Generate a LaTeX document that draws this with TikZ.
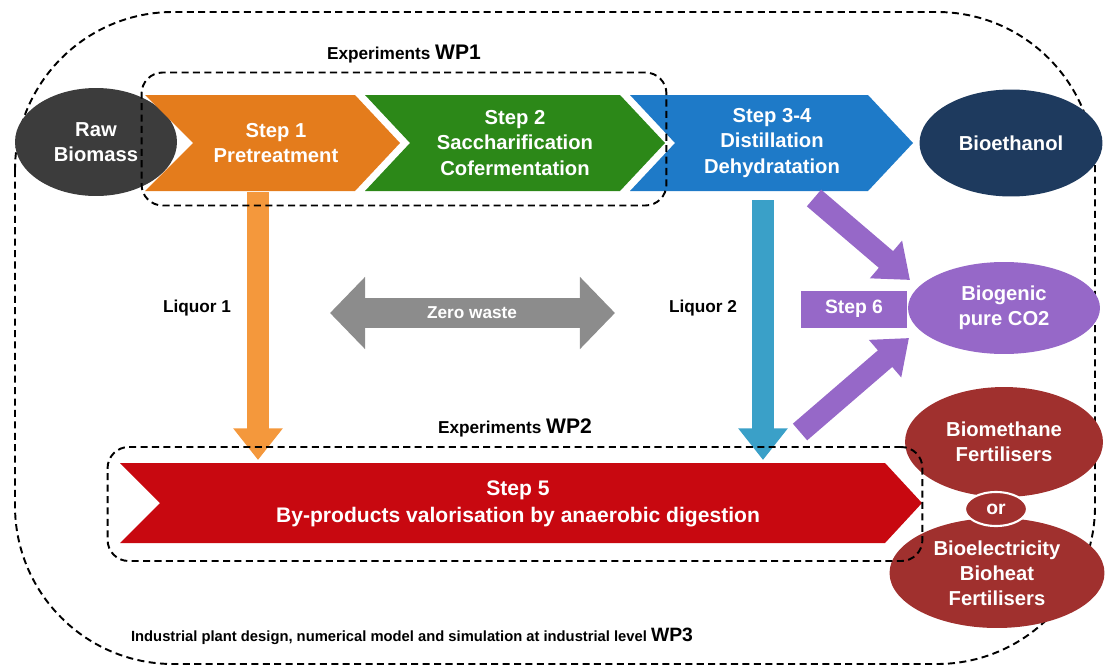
\documentclass[tikz,border=0pt]{standalone}
\usepackage{fontspec}
\setmainfont{Liberation Sans}
\usetikzlibrary{arrows.meta,positioning,shapes.geometric}
\definecolor{rawgray}{RGB}{60,60,60}
\definecolor{steporange}{RGB}{228,124,28}
\definecolor{liqorange}{RGB}{244,152,60}
\definecolor{stepgreen}{RGB}{44,136,24}
\definecolor{stepblue}{RGB}{30,122,200}
\definecolor{liqblue}{RGB}{58,160,200}
\definecolor{ethanolblue}{RGB}{30,58,94}
\definecolor{co2purple}{RGB}{150,104,200}
\definecolor{stepred}{RGB}{200,8,16}
\definecolor{gasred}{RGB}{160,48,46}
\definecolor{wastegray}{RGB}{140,140,140}

\begin{document}
\begin{tikzpicture}[x=0.02cm,y=-0.02cm,
   steptxt/.style={text=white,align=center,font=\fontsize{11.5}{14.3}\selectfont\bfseries},
   blob/.style={ellipse,inner sep=0pt,text=white,align=center,
                font=\fontsize{11.5}{14.3}\selectfont\bfseries},
   wpbox/.style={draw,line width=1.1pt,dash pattern=on 4pt off 2.5pt,rounded corners=12},
   lbl/.style={font=\fontsize{9.8}{11}\selectfont\bfseries},
   bigarrow/.style={line width=12.5pt,-{Triangle[width=27pt,length=18pt]}}]
  \useasboundingbox (0,0) rectangle (1105,666);
  % outer box, WP3
  \draw[line width=1.1pt,dash pattern=on 4pt off 2.5pt,rounded corners=90]
     (15,12) rectangle (1095,664);

  % top line of steps
  \node[blob,fill=rawgray,minimum width=3.24cm,minimum height=2.16cm] (raw) at (96,142) {Raw\\Biomass};
  \fill[steporange] (145,95) -- (355,95) -- (400,143) -- (355,191) -- (145,191) -- (193,143) -- cycle;
  \fill[stepgreen] (365,95) -- (620,95) -- (665,143) -- (620,191) -- (365,191) -- (410,143) -- cycle;
  \fill[stepblue] (630,95) -- (868,95) -- (913,143) -- (868,191) -- (630,191) -- (675,143) -- cycle;
  \node[steptxt] (s1) at (276,143) {Step 1\\Pretreatment};
  \node[steptxt] (s2) at (515,143) {Step 2\\Saccharification\\Cofermentation};
  \node[steptxt] (s34) at (772,143) {Step 3-4\\Distillation\\Dehydratation};
  \node[blob,fill=ethanolblue,minimum width=3.66cm,minimum height=2.14cm] (ethanol) at (1011,143) {Bioethanol};

  % right column
  \node[blob,fill=co2purple,minimum width=3.84cm,minimum height=1.84cm] (co2) at (1004,308) {Biogenic\\pure CO2};
  \node[blob,fill=gasred,minimum width=3.96cm,minimum height=2.2cm] (methane) at (1004,442) {Biomethane\\Fertilisers};
  \node[blob,fill=gasred,minimum width=4.3cm,minimum height=2.2cm] (elec) at (997,573) {Bioelectricity\\Bioheat\\Fertilisers};
  \node[blob,fill=gasred,draw=white,line width=1.2pt,minimum width=1.24cm,minimum height=0.68cm,
        font=\fontsize{11}{12}\selectfont\bfseries] (orbox) at (996,509) {or};
  \node[fill=co2purple,text=white,minimum width=2.12cm,minimum height=0.74cm,
        font=\fontsize{11}{12}\selectfont\bfseries] (s6) at (854,309) {Step 6};

  % step 5
  \fill[stepred] (120,463) -- (885,463) -- (922,503) -- (885,543) -- (120,543) -- (160,503) -- cycle;
  \node[steptxt,font=\fontsize{12}{15}\selectfont\bfseries] (s5) at (518,504)
     {Step 5\\By-products valorisation by anaerobic digestion};

  % liquors and gas flows
  \coordinate (l1a) at (258,192);
  \coordinate (l1b) at (258,460);
  \coordinate (l2a) at (763,200);
  \coordinate (l2b) at (763,460);
  \coordinate (g1a) at (814,198);
  \coordinate (g1b) at (910,280);
  \coordinate (g2a) at (800,432);
  \coordinate (g2b) at (909,338);
  \draw[bigarrow,liqorange] (l1a) -- (l1b);
  \draw[bigarrow,liqblue] (l2a) -- (l2b);
  \draw[bigarrow,co2purple] (g1a) -- (g1b);
  \draw[bigarrow,co2purple] (g2a) -- (g2b);
  \node[lbl] (liq1) at (197,308) {Liquor 1};
  \node[lbl] (liq2) at (703,308) {Liquor 2};

  % zero waste
  \coordinate (zwl) at (330,313);
  \coordinate (zwr) at (615,313);
  \draw[wastegray,line width=17pt,{Triangle[width=40pt,length=20pt]}-{Triangle[width=40pt,length=20pt]}] (zwl) -- (zwr);
  \node[lbl,text=white] (zw) at (472,313) {Zero waste};

  % work packages
  \node[wpbox,minimum width=10.5cm,minimum height=2.66cm] (wp1) at (404,139) {};
  \node[wpbox,minimum width=16.3cm,minimum height=2.28cm] (wp2) at (515,504) {};
  \node[lbl,above=0.5mm of wp1] {Experiments \fontsize{12}{13}\selectfont WP1};
  \node[lbl,above=0.5mm of wp2] {Experiments \fontsize{12}{13}\selectfont WP2};
  \node[lbl,font=\fontsize{8.4}{10}\selectfont\bfseries] (wp3) at (412,636)
     {Industrial plant design, numerical model and simulation at industrial level \fontsize{11}{12}\selectfont WP3};
\end{tikzpicture}
\end{document}
